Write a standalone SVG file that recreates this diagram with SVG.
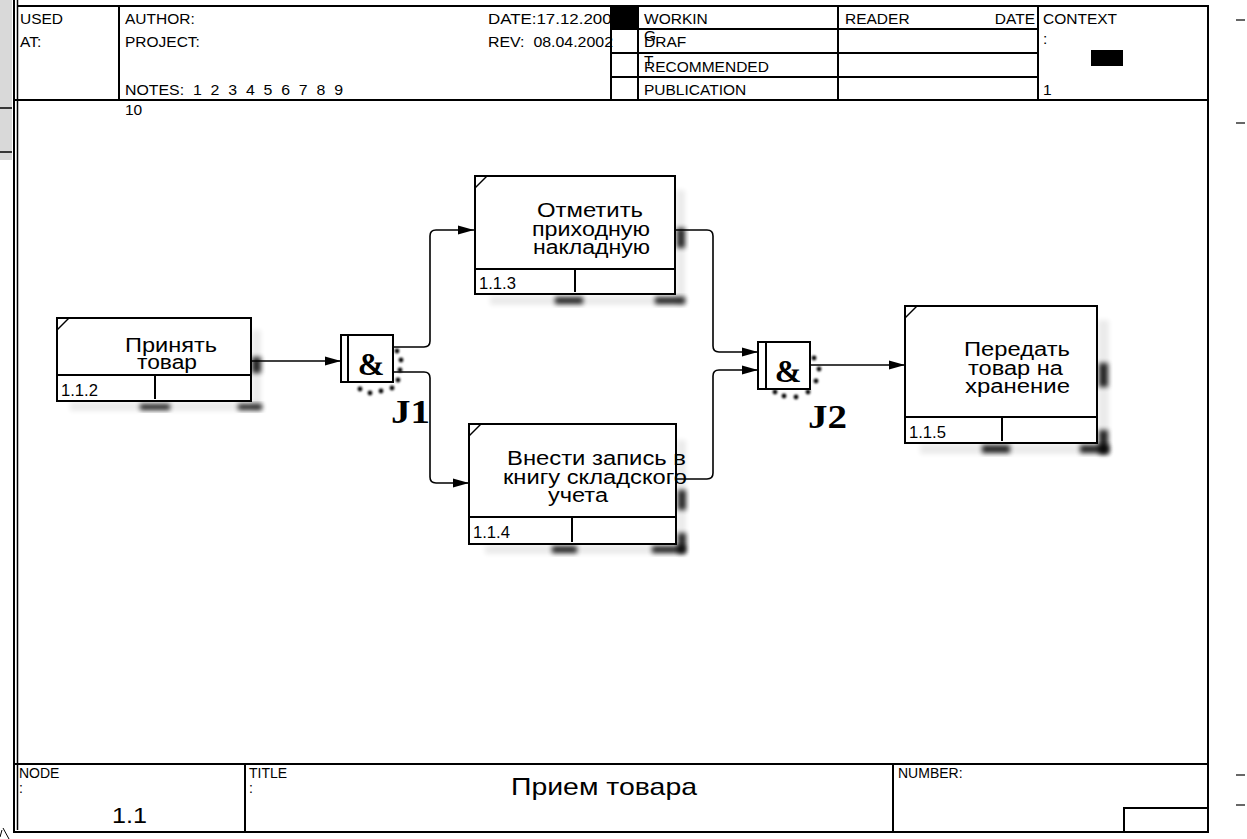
<svg xmlns="http://www.w3.org/2000/svg" width="1247" height="839" viewBox="0 0 1247 839">
<style>
.ln{stroke:#000;stroke-width:2;fill:none}
.thin{stroke:#000;stroke-width:1.5;fill:none}
.box{fill:#fff;stroke:#000;stroke-width:2}
.hd{font-family:"Liberation Sans",Arial,sans-serif;font-size:15.5px;fill:#000}
.ft{font-family:"Liberation Sans",Arial,sans-serif;font-size:14px;fill:#000}
.bt{font-family:"Liberation Sans",Arial,sans-serif;font-size:20px;fill:#000;text-anchor:middle}
.lb{font-family:"Liberation Sans",Arial,sans-serif;font-size:16px;fill:#000}
.amp{font-family:"Liberation Serif","Times New Roman",serif;font-size:32px;font-weight:bold;fill:#000;text-anchor:middle}
.jl{font-family:"Liberation Serif","Times New Roman",serif;font-size:33px;font-weight:bold;fill:#000}
.conn{stroke:#000;stroke-width:1.6;fill:none}
.sh{fill:#000;opacity:0.85;filter:url(#blur)}
.shl{fill:#000;opacity:0.08;filter:url(#blur)}
.dot{fill:#000;filter:url(#blur1)}
</style>
<defs>
<marker id="arr" markerUnits="userSpaceOnUse" markerWidth="16" markerHeight="10" refX="16" refY="5" orient="auto">
<path d="M0,0.5 L16,5 L0,9.5 z" fill="#000"/>
</marker>
<filter id="blur" x="-50%" y="-50%" width="200%" height="200%"><feGaussianBlur stdDeviation="2.5"/></filter>
<filter id="blur1" x="-100%" y="-100%" width="300%" height="300%"><feGaussianBlur stdDeviation="1.1"/></filter>
</defs>

<rect x="0" y="0" width="1247" height="839" fill="#fff"/>

<g id="page-edge">
<rect x="0" y="0" width="12" height="160" fill="#d9d9d9"/>
<line x1="0" y1="108" x2="12" y2="108" stroke="#000" stroke-width="1.5"/>
<line x1="0" y1="152" x2="12" y2="152" stroke="#000" stroke-width="1.5"/>
<line x1="1236" y1="20" x2="1245" y2="20" stroke="#000" stroke-width="1.2"/>
<line x1="1236" y1="123" x2="1245" y2="123" stroke="#000" stroke-width="1.2"/>
<line x1="1236" y1="775" x2="1245" y2="775" stroke="#000" stroke-width="1.2"/>
<line x1="1236" y1="805" x2="1245" y2="805" stroke="#000" stroke-width="1.2"/>
<path d="M3,828 L9,839 M2,830 L0,837" stroke="#000" stroke-width="1" fill="none"/>
</g>

<g id="frame">
<line x1="14" y1="0" x2="14" y2="833" class="ln"/>
<line x1="17.5" y1="0" x2="17.5" y2="830" stroke="#000" stroke-width="1.5"/>
<line x1="17" y1="6" x2="1209" y2="6" class="ln"/>
<line x1="1208" y1="6" x2="1208" y2="833" class="ln"/>
<line x1="13" y1="832" x2="1209" y2="832" class="ln"/>
</g>

<g id="header">
<line x1="14" y1="100" x2="1209" y2="100" class="ln"/>
<line x1="119" y1="6" x2="119" y2="100" class="ln"/>
<line x1="611" y1="6" x2="611" y2="100" class="ln"/>
<line x1="638" y1="6" x2="638" y2="100" class="ln"/>
<line x1="838" y1="6" x2="838" y2="100" class="ln"/>
<line x1="1038" y1="6" x2="1038" y2="100" class="ln"/>
<line x1="611" y1="29" x2="1038" y2="29" class="ln"/>
<line x1="611" y1="53" x2="1038" y2="53" class="ln"/>
<line x1="611" y1="77" x2="1038" y2="77" class="ln"/>
<text class="hd" x="20" y="24">USED</text>
<text class="hd" x="20" y="47">AT:</text>
<text class="hd" x="125" y="24">AUTHOR:</text>
<text class="hd" x="125" y="47">PROJECT:</text>
<text class="hd" x="125" y="95" xml:space="preserve" textLength="218" lengthAdjust="spacingAndGlyphs">NOTES:  1  2  3  4  5  6  7  8  9</text>
<text class="hd" x="125" y="115">10</text>
<text class="hd" x="488" y="24" textLength="133" lengthAdjust="spacingAndGlyphs">DATE:17.12.2000</text>
<text class="hd" x="488" y="47" xml:space="preserve" textLength="125" lengthAdjust="spacingAndGlyphs">REV:  08.04.2002</text>
<rect x="612" y="6" width="26" height="23" fill="#000"/>
<text class="hd" x="644" y="24">WORKIN</text>
<text class="hd" x="644" y="41">G</text>
<text class="hd" x="644" y="47">DRAF</text>
<text class="hd" x="644" y="66">T</text>
<text class="hd" x="644" y="72">RECOMMENDED</text>
<text class="hd" x="644" y="95">PUBLICATION</text>
<text class="hd" x="845" y="24">READER</text>
<text class="hd" x="1035" y="24" text-anchor="end">DATE</text>
<text class="hd" x="1043" y="24">CONTEXT</text>
<text class="hd" x="1043" y="44">:</text>
<rect x="1091" y="50" width="32" height="16" fill="#000"/>
<text class="hd" x="1043" y="95">1</text>
</g>

<g id="footer">
<line x1="14" y1="764" x2="1209" y2="764" class="ln"/>
<line x1="245" y1="764" x2="245" y2="832" class="ln"/>
<line x1="893" y1="764" x2="893" y2="832" class="ln"/>
<polyline points="1124,832 1124,808 1208,808" class="ln"/>
<text class="ft" x="19" y="778">NODE</text>
<text class="ft" x="19" y="793">:</text>
<text x="112" y="823" font-family="Liberation Sans, Arial, sans-serif" font-size="22" textLength="35" lengthAdjust="spacingAndGlyphs">1.1</text>
<text class="ft" x="249" y="778">TITLE</text>
<text class="ft" x="249" y="793">:</text>
<text x="604" y="795" text-anchor="middle" font-family="Liberation Sans, Arial, sans-serif" font-size="24" textLength="186" lengthAdjust="spacingAndGlyphs">Прием товара</text>
<text class="ft" x="898" y="778">NUMBER:</text>
</g>

<g id="shadows">
<rect class="shl" x="70" y="402" width="192" height="9"/>
<rect class="shl" x="252" y="330" width="9" height="80"/>
<rect class="sh" x="252" y="357" width="9" height="16"/>
<rect class="sh" x="140" y="404" width="30" height="6"/>
<rect class="sh" x="238" y="404" width="24" height="6"/>

<rect class="shl" x="490" y="296" width="196" height="9"/>
<rect class="shl" x="676" y="190" width="9" height="115"/>
<rect class="sh" x="677" y="228" width="8" height="20"/>
<rect class="sh" x="555" y="297" width="28" height="7"/>
<rect class="sh" x="655" y="297" width="30" height="7"/>

<rect class="shl" x="485" y="545" width="200" height="9"/>
<rect class="shl" x="677" y="440" width="9" height="114"/>
<rect class="sh" x="678" y="490" width="8" height="20"/>
<rect class="sh" x="678" y="533" width="8" height="20"/>
<rect class="sh" x="552" y="546" width="25" height="7"/>
<rect class="sh" x="652" y="546" width="33" height="7"/>

<rect class="shl" x="920" y="444" width="190" height="10"/>
<rect class="shl" x="1098" y="320" width="11" height="134"/>
<rect class="sh" x="1099" y="363" width="9" height="24"/>
<rect class="sh" x="1099" y="430" width="9" height="24"/>
<rect class="sh" x="982" y="445" width="28" height="8"/>
<rect class="sh" x="1080" y="445" width="29" height="8"/>

<g id="j1-dots">
<circle class="dot" cx="397" cy="351" r="2.4"/>
<circle class="dot" cx="401" cy="360" r="2.4"/>
<circle class="dot" cx="400" cy="370" r="2.4"/>
<circle class="dot" cx="398" cy="380" r="2.4"/>
<circle class="dot" cx="392" cy="388" r="2.4"/>
<circle class="dot" cx="381" cy="391" r="2.4"/>
<circle class="dot" cx="370" cy="393" r="2.4"/>
<circle class="dot" cx="360" cy="389" r="2.4"/>
</g>
<g id="j2-dots">
<circle class="dot" cx="814" cy="358" r="2.4"/>
<circle class="dot" cx="819" cy="369" r="2.4"/>
<circle class="dot" cx="816" cy="381" r="2.4"/>
<circle class="dot" cx="808" cy="392" r="2.4"/>
<circle class="dot" cx="796" cy="397" r="2.4"/>
<circle class="dot" cx="784" cy="396" r="2.4"/>
<circle class="dot" cx="775" cy="392" r="2.4"/>
</g>
</g>

<g id="connectors">
<path class="conn" d="M251,361 H341" marker-end="url(#arr)"/>
<path class="conn" d="M393,347 H424 Q430,347 430,341 V236 Q430,230 436,230 H474" marker-end="url(#arr)"/>
<path class="conn" d="M393,372 H424 Q430,372 430,378 V477 Q430,483 436,483 H469" marker-end="url(#arr)"/>
<path class="conn" d="M675,230 H707 Q713,230 713,236 V346 Q713,352 719,352 H758" marker-end="url(#arr)"/>
<path class="conn" d="M676,479 H707 Q713,479 713,473 V376 Q713,370 719,370 H758" marker-end="url(#arr)"/>
<path class="conn" d="M810,365 H905" marker-end="url(#arr)"/>
</g>

<g id="box-1.1.2">
<rect class="box" x="57" y="318" width="194" height="83"/>
<line x1="57" y1="330" x2="69" y2="318" class="thin"/>
<line x1="57" y1="375" x2="251" y2="375" class="ln"/>
<line x1="155" y1="375" x2="155" y2="399" class="ln"/>
<text class="bt" x="171" y="352" textLength="92" lengthAdjust="spacingAndGlyphs">Принять</text>
<text class="bt" x="167" y="369" textLength="60" lengthAdjust="spacingAndGlyphs">товар</text>
<text class="lb" x="61" y="396" textLength="37" lengthAdjust="spacingAndGlyphs">1.1.2</text>
</g>

<g id="box-1.1.3">
<rect class="box" x="475" y="176" width="200" height="118"/>
<line x1="475" y1="188" x2="487" y2="176" class="thin"/>
<line x1="475" y1="269" x2="675" y2="269" class="ln"/>
<line x1="575" y1="269" x2="575" y2="292" class="ln"/>
<text class="bt" x="590" y="217" textLength="106" lengthAdjust="spacingAndGlyphs">Отметить</text>
<text class="bt" x="591" y="236" textLength="118" lengthAdjust="spacingAndGlyphs">приходную</text>
<text class="bt" x="591.5" y="254" textLength="117" lengthAdjust="spacingAndGlyphs">накладную</text>
<text class="lb" x="479" y="289" textLength="37" lengthAdjust="spacingAndGlyphs">1.1.3</text>
</g>

<g id="box-1.1.4">
<rect class="box" x="469" y="424" width="207" height="120"/>
<line x1="469" y1="436" x2="481" y2="424" class="thin"/>
<line x1="469" y1="517" x2="676" y2="517" class="ln"/>
<line x1="572" y1="517" x2="572" y2="542" class="ln"/>
<text class="bt" x="596.5" y="465" textLength="179" lengthAdjust="spacingAndGlyphs">Внести запись в</text>
<text class="bt" x="595" y="484" textLength="184" lengthAdjust="spacingAndGlyphs">книгу складского</text>
<text class="bt" x="578" y="502" textLength="60" lengthAdjust="spacingAndGlyphs">учета</text>
<text class="lb" x="473" y="538" textLength="37" lengthAdjust="spacingAndGlyphs">1.1.4</text>
</g>

<g id="box-1.1.5">
<rect class="box" x="905" y="306" width="192" height="137"/>
<line x1="905" y1="318" x2="917" y2="306" class="thin"/>
<line x1="905" y1="417" x2="1097" y2="417" class="ln"/>
<line x1="1002" y1="417" x2="1002" y2="441" class="ln"/>
<text class="bt" x="1017" y="356" textLength="106" lengthAdjust="spacingAndGlyphs">Передать</text>
<text class="bt" x="1015.5" y="375" textLength="95" lengthAdjust="spacingAndGlyphs">товар на</text>
<text class="bt" x="1017.5" y="393" textLength="105" lengthAdjust="spacingAndGlyphs">хранение</text>
<text class="lb" x="909" y="438" textLength="37" lengthAdjust="spacingAndGlyphs">1.1.5</text>
</g>

<g id="junction-J1">
<rect class="box" x="341" y="335" width="52" height="47"/>
<line x1="348" y1="335" x2="348" y2="382" class="ln"/>
<text class="amp" x="371" y="375">&amp;</text>
<text class="jl" x="391" y="423" textLength="39" lengthAdjust="spacingAndGlyphs">J1</text>
</g>

<g id="junction-J2">
<rect class="box" x="758" y="342" width="52" height="47"/>
<line x1="766" y1="342" x2="766" y2="389" class="ln"/>
<text class="amp" x="788" y="382">&amp;</text>
<text class="jl" x="808" y="428" textLength="39" lengthAdjust="spacingAndGlyphs">J2</text>
</g>
</svg>
